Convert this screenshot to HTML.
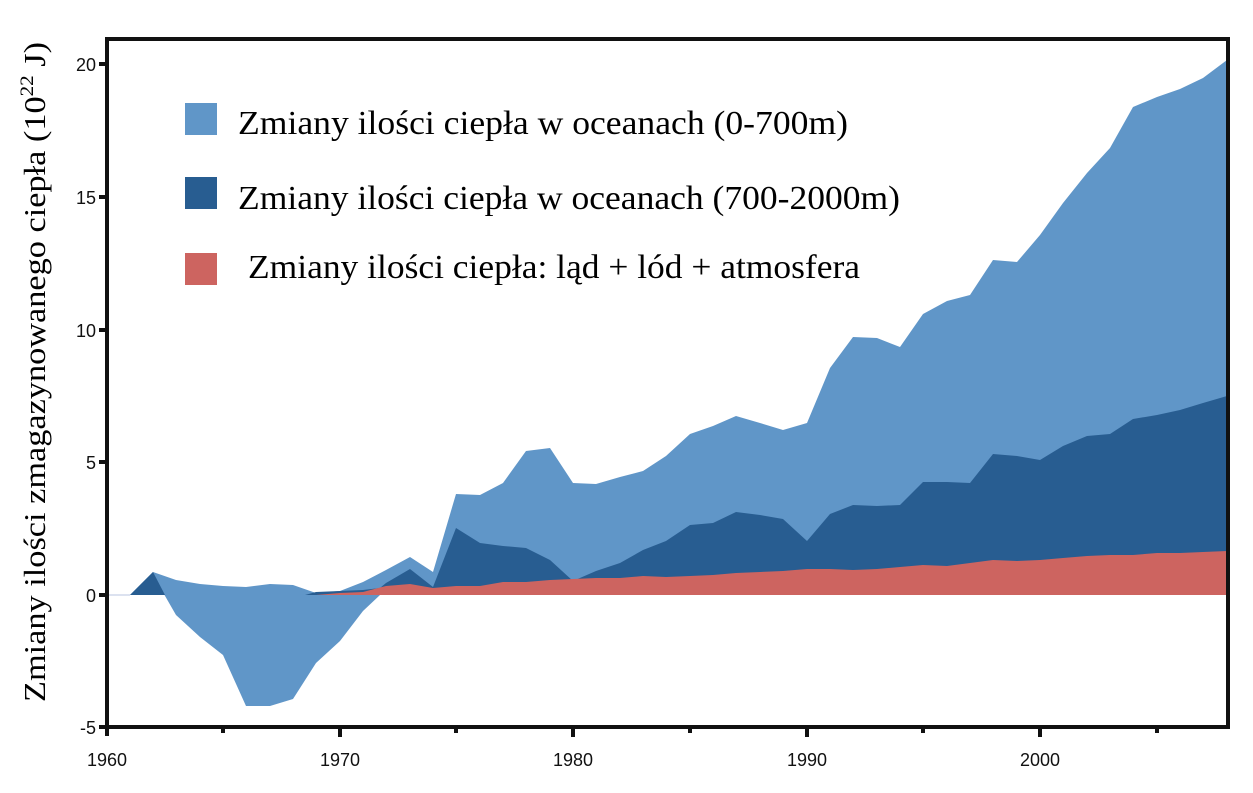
<!DOCTYPE html>
<html><head><meta charset="utf-8"><style>
body{margin:0;background:#fff;width:1253px;height:788px;overflow:hidden}
</style></head><body>
<svg width="1253" height="788" xmlns="http://www.w3.org/2000/svg">
<rect width="1253" height="788" fill="#fff"/>
<polygon fill="#6096c8" points="130,595 153,572 176,580 200,584 223,586 246,587 270,584 293,585 316,593 340,591 363,582 386,570 410,557 433,572 456,494 480,495 503,483 526,451 550,448 573,483 596,484 620,477 643,471 666,456 690,434 713,426 736,416 760,423 783,430 807,423 830,368 853,337 877,338 900,347 923,314 947,301 970,295 993,260 1017,262 1040,235 1063,203 1087,173 1110,148 1133,107 1157,97 1180,89 1203,78 1227,60 1227,595 380,595 363,611 340,641 316,663 293,699 270,706 246,706 223,655 200,637 176,615 153,575 140,595"/>
<polygon fill="#285d91" points="130,595 153,572 165,595"/>
<polygon fill="#285d91" points="305,595 316,592 340,591 363,590 380,588 386,583 410,569 433,587 456,528 480,543 503,546 526,548 550,560 573,581 596,571 620,563 643,550 666,541 690,525 713,523 736,512 760,515 783,519 807,541 830,514 853,505 877,506 900,505 923,482 947,482 970,483 993,454 1017,456 1040,460 1063,446 1087,436 1110,434 1133,419 1157,415 1180,410 1203,403 1227,396 1227,595"/>
<polygon fill="#cd6460" points="316,595 340,593 363,592 386,586 410,584 433,588 456,586 480,586 503,582 526,582 550,580 573,579 596,578 620,578 643,576 666,577 690,576 713,575 736,573 760,572 783,571 807,569 830,569 853,570 877,569 900,567 923,565 947,566 970,563 993,560 1017,561 1040,560 1063,558 1087,556 1110,555 1133,555 1157,553 1180,553 1203,552 1227,551 1227,595"/>
<line x1="107" y1="595" x2="130" y2="595" stroke="#b8c4e0" stroke-width="1"/>
<rect x="107" y="39" width="1121" height="688" fill="none" stroke="#111" stroke-width="4"/>
<g stroke="#111" stroke-width="4">
<line x1="99" y1="64" x2="107" y2="64"/><line x1="99" y1="197" x2="107" y2="197"/><line x1="99" y1="330" x2="107" y2="330"/><line x1="99" y1="462" x2="107" y2="462"/><line x1="99" y1="595" x2="107" y2="595"/><line x1="99" y1="727" x2="107" y2="727"/>
<line x1="107" y1="727" x2="107" y2="736"/><line x1="340" y1="727" x2="340" y2="737"/><line x1="573" y1="727" x2="573" y2="737"/><line x1="807" y1="727" x2="807" y2="737"/><line x1="1040" y1="727" x2="1040" y2="737"/>
<line x1="223" y1="727" x2="223" y2="733"/><line x1="456" y1="727" x2="456" y2="733"/><line x1="690" y1="727" x2="690" y2="733"/><line x1="923" y1="727" x2="923" y2="733"/><line x1="1157" y1="727" x2="1157" y2="733"/>
</g>
<g font-family="Liberation Sans, sans-serif" font-size="18" fill="#111" text-anchor="end">
<text x="96" y="71">20</text><text x="96" y="204">15</text><text x="96" y="337">10</text><text x="96" y="469">5</text><text x="96" y="602">0</text><text x="96" y="734">-5</text>
</g>
<g font-family="Liberation Sans, sans-serif" font-size="18" fill="#111" text-anchor="middle">
<text x="107" y="766">1960</text><text x="340" y="766">1970</text><text x="573" y="766">1980</text><text x="807" y="766">1990</text><text x="1040" y="766">2000</text>
</g>
<text transform="translate(45,372) rotate(-90)" font-family="Liberation Serif, serif" font-size="31" text-anchor="middle" fill="#000" textLength="660" lengthAdjust="spacingAndGlyphs">Zmiany ilości zmagazynowanego ciepła (10<tspan font-size="19" dy="-12">22</tspan><tspan dy="12"> J)</tspan></text>
<rect x="185" y="103" width="32" height="32" fill="#6096c8"/>
<rect x="185" y="177" width="32" height="32" fill="#285d91"/>
<rect x="185" y="253" width="32" height="32" fill="#cd6460"/>
<g font-family="Liberation Serif, serif" font-size="34" fill="#000">
<text x="238" y="134" textLength="610" lengthAdjust="spacingAndGlyphs">Zmiany ilości ciepła w oceanach (0-700m)</text>
<text x="238" y="209" textLength="662" lengthAdjust="spacingAndGlyphs">Zmiany ilości ciepła w oceanach (700-2000m)</text>
<text x="248" y="278" textLength="612" lengthAdjust="spacingAndGlyphs">Zmiany ilości ciepła: ląd + lód + atmosfera</text>
</g>
</svg>
</body></html>
